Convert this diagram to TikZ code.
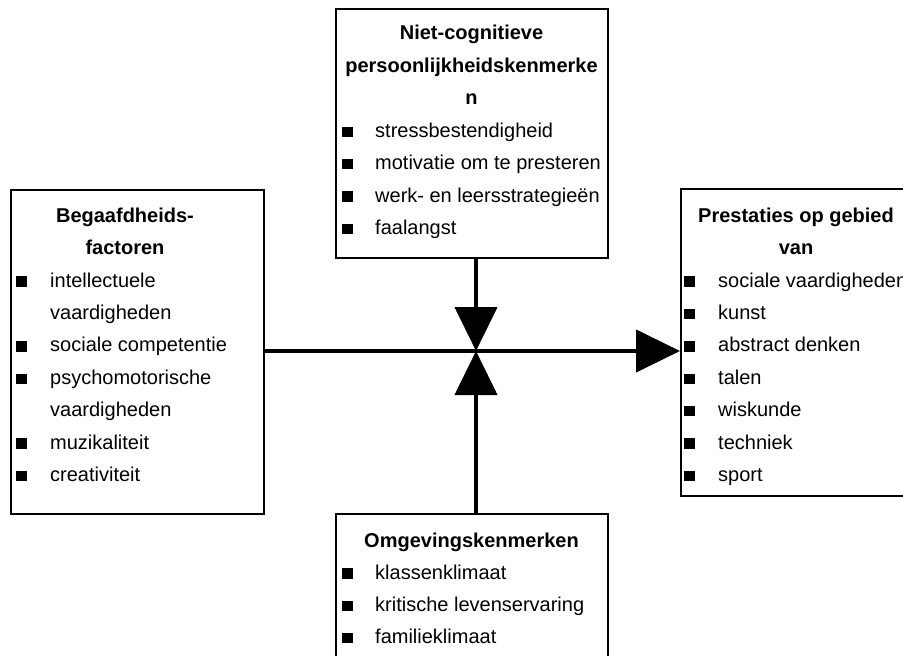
\documentclass[tikz,border=0pt]{standalone}
\usepackage{fontspec}
\setmainfont{Liberation Sans}
\usetikzlibrary{arrows.meta}
\begin{document}
\begin{tikzpicture}[x=1bp,y=-1bp,
  box/.style={draw=black, line width=2.2bp, fill=white, inner sep=0pt},
  conn/.style={line width=4.5bp, -{Triangle[length=44bp,width=42bp]}},
  ttl/.style={font=\fontsize{20bp}{24bp}\selectfont\bfseries, anchor=base, inner sep=0pt},
  itm/.style={font=\fontsize{20bp}{24bp}\selectfont, anchor=base west, inner sep=0pt},
  blt/.style={fill=black, inner sep=0pt, minimum size=10.5bp, anchor=south west}]
\useasboundingbox (0,0) rectangle (903,656);
\clip (0,0) rectangle (903,656);
\fill[white] (0,0) rectangle (903,656);

% boxes
\node[box, anchor=north west, minimum width=272bp, minimum height=249bp] (top) at (335,8) {};
\node[box, anchor=north west, minimum width=253bp, minimum height=324bp] (left) at (10,189) {};
\node[box, anchor=north west, minimum width=245bp, minimum height=307bp] (right) at (680,188) {};
\node[box, anchor=north west, minimum width=272bp, minimum height=170bp] (bot) at (335,513) {};

% connectors
\coordinate (c) at (476,351);
\draw[conn] (c |- top.south) -- (c);
\draw[conn] (c |- bot.north) -- (c);
\draw[conn] (left.east |- c) -- (right.west |- c);

% top box
\node[ttl] (tt1) at (471.5,40) {Niet-cognitieve};
\node[ttl] (tt2) at (471.5,72.4) {persoonlijkheidskenmerke};
\node[ttl] (tt3) at (471.5,104.8) {n};
\foreach [count=\i] \t/\y in {stressbestendigheid/137.2, motivatie om te presteren/169.6, werk- en leersstrategieën/202, faalangst/234.4}{
  \node[blt] (tb\i) at (342,\y) {};
  \node[itm] (ti\i) at (375,\y) {\t};
}

% left box
\node[ttl] (lt1) at (125,222) {Begaafdheids-};
\node[ttl] (lt2) at (125,254.5) {factoren};
\node[blt] (lb1) at (16,287) {};
\node[itm] (li1) at (50,287) {intellectuele};
\node[itm] (li1b) at (50,319.4) {vaardigheden};
\node[blt] (lb2) at (16,351.8) {};
\node[itm] (li2) at (50,351.8) {sociale competentie};
\node[blt] (lb3) at (16,384.2) {};
\node[itm] (li3) at (50,384.2) {psychomotorische};
\node[itm] (li3b) at (50,416.6) {vaardigheden};
\node[blt] (lb4) at (16,449) {};
\node[itm] (li4) at (50,449) {muzikaliteit};
\node[blt] (lb5) at (16,481.4) {};
\node[itm] (li5) at (50,481.4) {creativiteit};

% right box
\node[ttl] (rt1) at (796,222) {Prestaties op gebied};
\node[ttl] (rt2) at (796,254.5) {van};
\foreach [count=\i] \t/\y in {sociale vaardigheden/287, kunst/319.4, abstract denken/351.8, talen/384.2, wiskunde/416.6, techniek/449, sport/481.4}{
  \node[blt] (rb\i) at (684,\y) {};
  \node[itm] (ri\i) at (718,\y) {\t};
}

% bottom box
\node[ttl] (bt1) at (471.5,547) {Omgevingskenmerken};
\foreach [count=\i] \t/\y in {klassenklimaat/579, kritische levenservaring/611.2, familieklimaat/643.4}{
  \node[blt] (bb\i) at (342,\y) {};
  \node[itm] (bi\i) at (375,\y) {\t};
}
\end{tikzpicture}
\end{document}
